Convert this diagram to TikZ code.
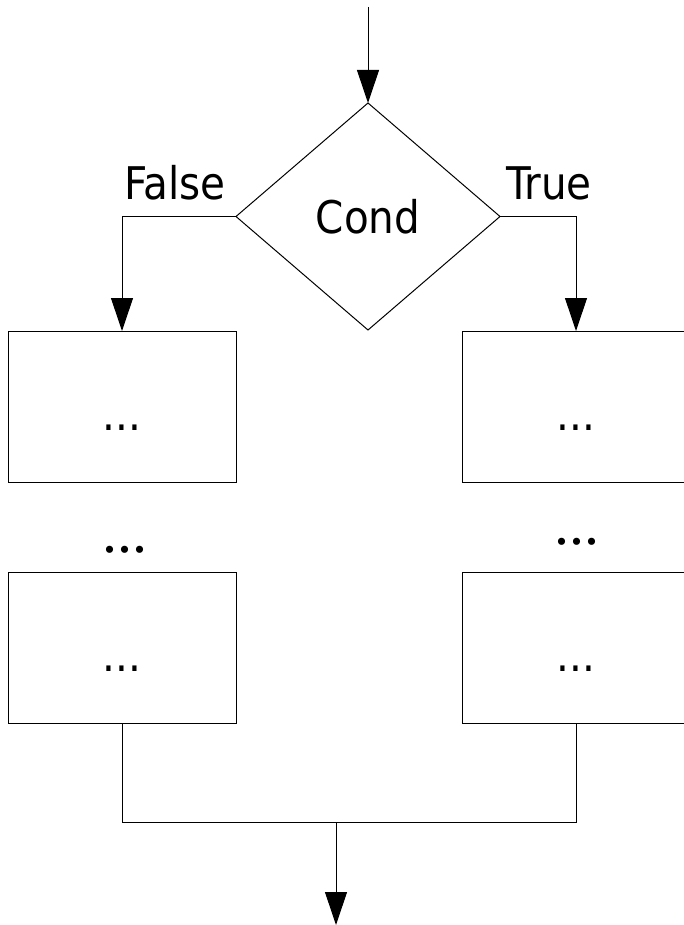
\documentclass[tikz,border=0pt]{standalone}
\usepackage{fontspec}
\setmainfont{DejaVu Sans Condensed}
\newfontfamily\dotfont{Liberation Serif}
\usepackage{tikz}
\usetikzlibrary{arrows.meta,shapes.geometric}

\newcommand{\boxdots}{\smash{\raisebox{-24pt}{...}}}

\tikzset{
    flow/.style={-{Triangle[width=22pt,length=33pt]}},
    block/.style={draw, rectangle, minimum width=228pt, minimum height=151pt, inner sep=0pt, outer sep=0pt},
    test/.style={draw, diamond, minimum width=264pt, minimum height=227pt, inner sep=0pt, outer sep=0pt},
    gap/.style={font=\dotfont\fontsize{60}{60}\selectfont},
}

\begin{document}
\begin{tikzpicture}[x=1pt, y=-1pt, line width=1pt, font=\fontsize{45}{54}\selectfont]
    \useasboundingbox (0,0) rectangle (683,925);
    \coordinate (entry) at (368,7);
    \node[test] (cond) at (368,216.5) {Cond};
    \node[block] (falseA) at (122,406.5) {\boxdots};
    \node[block] (trueA) at (576,406.5) {\boxdots};
    \node[block] (falseB) at (122,647.5) {\boxdots};
    \node[block] (trueB) at (576,647.5) {\boxdots};
    \node[gap] (falseDots) at (125,550) {...}; %rami
    \node[gap] (trueDots) at (577,542) {...};
    \node (falseLbl) at (175,183) {False};
    \node (trueLbl) at (549,183) {True};
    \coordinate (join) at (336,822);
    \coordinate (exit) at (336,925);
    \draw[flow] (entry) -- (cond.north);
    \draw[flow] (cond.west) -| (falseA.north);
    \draw[flow] (cond.east) -| (trueA.north);
    \draw (falseB.south) |- (join) -| (trueB.south);
    \draw[flow] (join) -- (exit);
\end{tikzpicture}
\end{document}
